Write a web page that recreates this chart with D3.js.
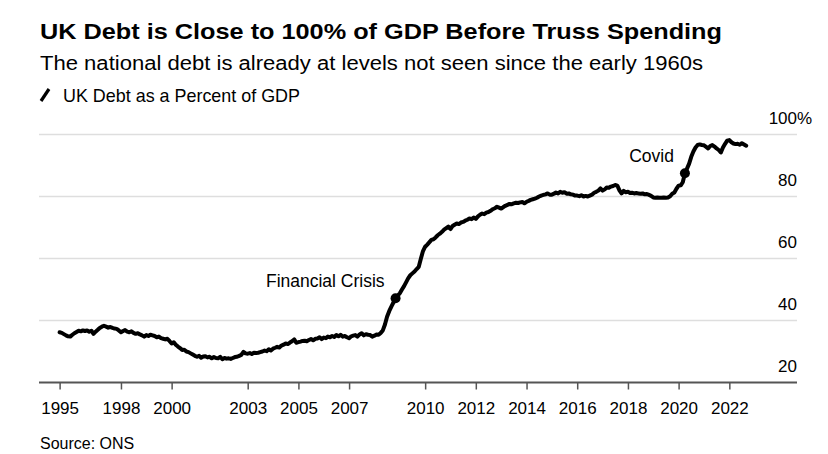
<!DOCTYPE html>
<html><head><meta charset="utf-8">
<script src="https://cdn.jsdelivr.net/npm/d3@7"></script>
<style>
body{margin:0;background:#fff}
svg{display:block}
text{font-family:"Liberation Sans",Arial,Helvetica,sans-serif;fill:#000}
</style>
</head><body>
<svg id="c" width="828" height="454"></svg>
<script>
const titleText = "UK Debt is Close to 100% of GDP Before Truss Spending";
const subtitleText = "The national debt is already at levels not seen since the early 1960s";
const legendText = "UK Debt as a Percent of GDP";
const sourceText = "Source: ONS";

// Monthly series starting August 1995
const startYear = 1995, startMonth = 7;
const debt = [
  36.2, 36.0, 35.6, 35.2, 34.9,                                   // 1995 Aug-Dec
  34.8, 35.4, 35.9, 36.3, 36.7, 36.5, 36.8, 36.6, 36.8, 36.4, 36.7, 35.7, // 1996
  36.4, 37.0, 37.6, 38.0, 38.3, 38.0, 37.7, 37.9, 37.6, 37.4, 37.3, 36.8, // 1997
  36.2, 36.6, 36.9, 36.4, 36.2, 36.5, 36.0, 35.7, 35.9, 35.5, 35.2, 34.8, // 1998
  35.3, 35.0, 35.4, 35.2, 35.0, 34.6, 34.8, 34.3, 34.1, 33.9, 34.1, 33.4, // 1999
  32.6, 33.0, 32.2, 31.6, 31.1, 30.5, 30.6, 30.0, 29.8, 29.4, 29.0, 28.6, // 2000
  28.3, 28.6, 28.0, 28.4, 28.5, 28.1, 28.3, 27.8, 28.2, 27.9, 27.8, 28.3, // 2001
  27.5, 27.9, 27.7, 27.8, 27.6, 27.9, 28.2, 28.3, 28.6, 28.9, 29.9, 29.4, // 2002
  29.3, 29.5, 29.2, 29.6, 29.5, 29.6, 29.8, 30.0, 30.3, 30.1, 30.7, 30.3, // 2003
  30.9, 31.2, 31.5, 31.3, 31.9, 32.2, 32.6, 32.4, 32.9, 33.3, 33.9, 32.8, // 2004
  33.0, 33.2, 33.4, 33.5, 33.3, 33.7, 34.0, 33.6, 34.1, 34.2, 34.6, 34.0, // 2005
  34.5, 34.3, 34.8, 34.6, 35.0, 34.7, 35.3, 34.9, 35.4, 34.8, 35.0, 34.6, // 2006
  34.3, 34.9, 35.1, 35.3, 34.8, 35.5, 35.9, 35.2, 35.6, 35.4, 35.3, 34.8, // 2007
  35.1, 35.5, 35.4, 36.0, 36.8, 38.7, 41.2, 43.0, 44.5, 45.8, 47.2, 48.0, // 2008
  48.8, 50.0, 51.0, 52.3, 53.6, 54.6, 55.2, 55.8, 56.6, 57.3, 60.0, 62.4, // 2009
  63.8, 64.5, 65.2, 66.0, 66.2, 66.8, 67.5, 68.0, 68.6, 69.3, 69.8, 70.3, // 2010
  69.5, 70.5, 70.9, 71.3, 71.1, 71.6, 71.8, 72.2, 72.5, 72.9, 72.7, 73.2, // 2011
  72.8, 73.6, 74.1, 74.5, 74.3, 74.8, 75.0, 75.4, 75.9, 76.2, 76.7, 76.4, // 2012
  76.1, 76.6, 77.0, 77.3, 77.6, 77.5, 77.8, 78.0, 77.9, 78.1, 78.2, 77.8, // 2013
  78.3, 78.6, 78.9, 79.1, 79.3, 79.6, 80.0, 80.3, 80.5, 80.7, 81.0, 80.6, // 2014
  80.6, 80.9, 81.3, 81.0, 81.5, 81.2, 81.4, 80.9, 81.0, 80.7, 80.6, 80.3, // 2015
  80.3, 80.1, 80.4, 80.0, 80.2, 80.0, 80.3, 80.6, 81.2, 81.5, 81.9, 82.6, // 2016
  81.9, 82.3, 82.9, 82.8, 83.2, 83.4, 83.7, 83.5, 82.0, 81.0, 81.8, 81.4, // 2017
  81.5, 81.1, 81.2, 81.0, 81.1, 81.0, 80.9, 81.0, 80.7, 80.8, 80.5, 80.2, // 2018
  79.7, 79.6, 79.7, 79.6, 79.6, 79.7, 79.6, 79.7, 80.1, 80.9, 81.3, 82.5, // 2019
  83.5, 83.6, 84.6, 87.5, 89.0, 90.6, 92.8, 94.5, 95.8, 96.6, 96.8, 96.6, // 2020
  96.5, 96.0, 95.5, 96.3, 96.6, 96.1, 95.5, 95.0, 94.2, 95.8, 97.0, 98.0, // 2021
  98.2, 97.5, 97.1, 96.9, 97.0, 96.7, 97.2, 96.8, 96.4                    // 2022 Jan-Sep
];

const xTickDates = [[1995,7],[1998,0],[2000,0],[2003,0],[2005,0],[2007,0],[2010,0],[2012,0],[2014,0],[2016,0],[2018,0],[2020,0],[2022,0]];
const yTicks = [20, 40, 60, 80, 100];
const annotations = [
  {label: "Financial Crisis", year: 2008, month: 10},
  {label: "Covid", year: 2020, month: 3}
];

const data = debt.map((v, i) => ({date: new Date(startYear, startMonth + i, 1), value: v}));

const svg = d3.select("#c");
const x = d3.scaleTime().domain([new Date(1994, 9, 8), new Date(2024, 8, 2)]).range([39, 797]);
const y = d3.scaleLinear().domain([20, 100]).range([382.5, 134.5]);

// Titles
svg.append("text").attr("x", 40).attr("y", 39).attr("font-size", 22.8).attr("font-weight", "bold")
  .attr("textLength", 682).attr("lengthAdjust", "spacingAndGlyphs").text(titleText);
svg.append("text").attr("x", 40).attr("y", 70).attr("font-size", 20)
  .attr("textLength", 663).attr("lengthAdjust", "spacingAndGlyphs").text(subtitleText);
svg.append("line").attr("x1", 41).attr("y1", 101).attr("x2", 49).attr("y2", 89)
  .attr("stroke", "#000").attr("stroke-width", 3.2).attr("stroke-linecap", "butt");
svg.append("text").attr("x", 63).attr("y", 101.7).attr("font-size", 19)
  .attr("textLength", 237).attr("lengthAdjust", "spacingAndGlyphs").text(legendText);

// Gridlines
svg.append("g").selectAll("line").data(yTicks.filter(d => d > 20)).join("line")
  .attr("x1", 39).attr("x2", 797).attr("y1", d => y(d)).attr("y2", d => y(d))
  .attr("stroke", "#dedede").attr("stroke-width", 1.5);

// Y labels
const yl = svg.append("g");
yl.selectAll("text").data(yTicks).join("text")
  .attr("x", 797).attr("y", d => y(d) - 10.5).attr("text-anchor", "end").attr("font-size", 17)
  .text(d => d);
yl.append("text").attr("x", 797).attr("y", y(100) - 10.5).attr("font-size", 17).text("%");

// X axis
const xAxis = d3.axisBottom(x)
  .tickValues(xTickDates.map(d => new Date(d[0], d[1], 1)))
  .tickFormat(d3.timeFormat("%Y"))
  .tickSize(7).tickPadding(12.5);
const gx = svg.append("g").attr("transform", `translate(0,${y(20)})`).call(xAxis);
gx.select(".domain").remove();
gx.selectAll(".tick line").attr("stroke", "#555").attr("stroke-width", 1.5);
gx.selectAll(".tick text").attr("font-size", 17).attr("font-family", "'Liberation Sans',Arial,sans-serif").attr("fill", "#000");
svg.append("line").attr("x1", 39).attr("x2", 797).attr("y1", y(20)).attr("y2", y(20))
  .attr("stroke", "#555").attr("stroke-width", 2);

// Line
const line = d3.line().x(d => x(d.date)).y(d => y(d.value));
svg.append("path").datum(data).attr("d", line)
  .attr("fill", "none").attr("stroke", "#000").attr("stroke-width", 4)
  .attr("stroke-linejoin", "round").attr("stroke-linecap", "round");

// Annotations
annotations.forEach(a => {
  const idx = (a.year - startYear) * 12 + a.month - startMonth;
  const p = data[idx];
  const cx = x(p.date), cy = y(p.value);
  svg.append("circle").attr("cx", cx).attr("cy", cy).attr("r", 5).attr("fill", "#000");
  svg.append("text").attr("x", cx - 11).attr("y", cy - 11.5).attr("text-anchor", "end")
    .attr("font-size", 17.5).text(a.label);
});

// Source
svg.append("text").attr("x", 40).attr("y", 449).attr("font-size", 16).text(sourceText);
</script>
</body></html>
